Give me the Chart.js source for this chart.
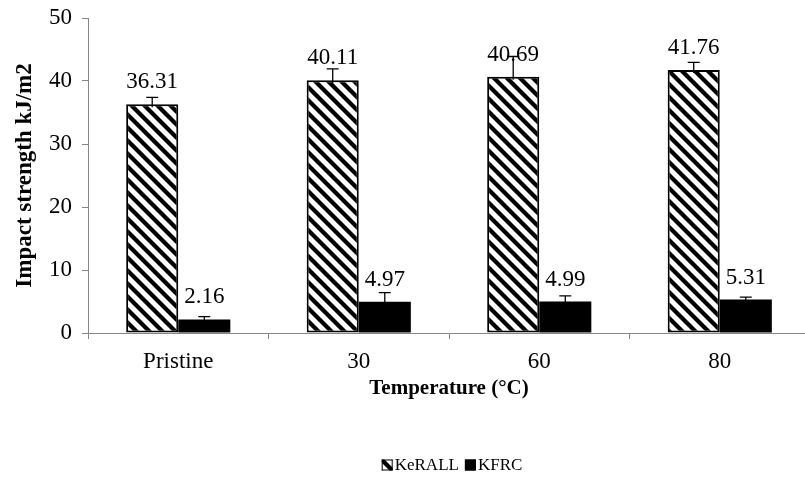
<!DOCTYPE html>
<html>
<head>
<meta charset="utf-8">
<script src="https://cdn.jsdelivr.net/npm/chart.js@4/dist/chart.umd.min.js"></script>
<style>
  html, body { margin: 0; padding: 0; overflow: hidden; background: #ffffff; }
  #wrap { width: 810px; height: 478px; }
</style>
</head>
<body>
<div id="wrap"><canvas id="chart" width="810" height="478"></canvas></div>
<script>
// Impact strength (kJ/m2) by conditioning temperature
const categories = ['Pristine', '30', '60', '80'];
const keRALL = [36.31, 40.11, 40.69, 41.76];
const keRALLErr = [1.1, 1.8, 3.2, 1.2];
const kfrc = [2.16, 4.97, 4.99, 5.31];
const kfrcErr = [0.45, 1.45, 0.9, 0.4];
const yMin = 0, yMax = 50, yStep = 10;

const SERIF = '"Liberation Serif", "Times New Roman", serif';
const AXIS_GREY = '#868686';

// diagonal "\" hatch used for the KeRALL bars
function makeHatch() {
  const s = 13;
  const c = document.createElement('canvas');
  c.width = s; c.height = s;
  const g = c.getContext('2d');
  g.fillStyle = '#ffffff';
  g.fillRect(0, 0, s, s);
  g.strokeStyle = '#000000';
  g.lineWidth = 4.2;
  for (const k of [-s, 0, s]) {
    g.beginPath();
    g.moveTo(-2, k - 2);
    g.lineTo(s + 2, s + k + 2);
    g.stroke();
  }
  return g.createPattern(c, 'repeat');
}
const hatch = makeHatch();

// plus-direction error bars and value labels, placed through the chart's scales
const barExtras = {
  id: 'barExtras',
  afterDatasetsDraw(chart) {
    const ctx = chart.ctx;
    const y = chart.scales.y;
    chart.data.datasets.forEach((ds, di) => {
      const meta = chart.getDatasetMeta(di);
      meta.data.forEach((bar, i) => {
        const v = ds.data[i];
        const e = ds.errors[i];
        const x = bar.x;
        const yTop = y.getPixelForValue(v);
        const yHi = y.getPixelForValue(v + e);
        ctx.save();
        ctx.strokeStyle = '#000000';
        ctx.lineWidth = 1.3;
        ctx.beginPath();
        ctx.moveTo(x, yTop + 3); ctx.lineTo(x, yHi);
        ctx.moveTo(x - 6, yHi); ctx.lineTo(x + 6, yHi);
        ctx.stroke();
        ctx.fillStyle = '#000000';
        ctx.font = '23px ' + SERIF;
        ctx.textAlign = 'center';
        ctx.textBaseline = 'alphabetic';
        ctx.fillText(v.toFixed(2), x, yTop - 16);
        ctx.restore();
      });
    });
  }
};

// compact legend row below the axis title
const bottomLegend = {
  id: 'bottomLegend',
  afterDraw(chart) {
    const ctx = chart.ctx;
    const area = chart.chartArea;
    ctx.save();
    ctx.font = '17px ' + SERIF;
    ctx.textBaseline = 'middle';
    ctx.textAlign = 'left';
    const box = 11, gapText = 2, gapItem = 6;
    const items = chart.data.datasets.map(ds => ({
      label: ds.label, fill: ds.backgroundColor,
      w: box + gapText + ctx.measureText(ds.label).width
    }));
    const total = items.reduce((s, it) => s + it.w, 0) + gapItem * (items.length - 1);
    let x = (area.left + area.right) / 2 - total / 2 + 3;
    const cy = 465;
    items.forEach(it => {
      ctx.fillStyle = it.fill;
      ctx.fillRect(x, cy - box / 2, box, box);
      ctx.strokeStyle = '#000000';
      ctx.lineWidth = 1;
      ctx.strokeRect(x + 0.5, cy - box / 2 + 0.5, box - 1, box - 1);
      ctx.fillStyle = '#000000';
      ctx.fillText(it.label, x + box + gapText, cy + 1);
      x += it.w + gapItem;
    });
    ctx.restore();
  }
};

new Chart(document.getElementById('chart'), {
  type: 'bar',
  data: {
    labels: categories,
    datasets: [
      {
        label: 'KeRALL',
        data: keRALL,
        errors: keRALLErr,
        backgroundColor: hatch,
        borderColor: '#000000',
        borderWidth: 2,
        borderSkipped: false
      },
      {
        label: 'KFRC',
        data: kfrc,
        errors: kfrcErr,
        backgroundColor: '#000000',
        borderColor: '#000000',
        borderWidth: 0
      }
    ]
  },
  options: {
    responsive: false,
    animation: false,
    devicePixelRatio: 1,
    layout: { padding: { top: 18, right: 0, bottom: 0, left: 0 } },
    datasets: { bar: { categoryPercentage: 0.577, barPercentage: 1.0 } },
    plugins: {
      legend: { display: false },
      tooltip: { enabled: false }
    },
    scales: {
      x: {
        grid: { display: true, drawOnChartArea: false, drawTicks: true, tickLength: 6, color: AXIS_GREY, offset: true },
        border: { display: true, color: AXIS_GREY, width: 1 },
        ticks: { color: '#000000', font: { family: SERIF, size: 23 }, padding: 9, maxRotation: 0 },
        title: {
          display: true,
          text: 'Temperature (°C)',
          color: '#000000',
          font: { family: SERIF, size: 21, weight: 'bold' },
          padding: { top: 0, bottom: 77 }
        },
        afterFit(scale) { scale.height = 145; scale.paddingLeft = 0; scale.paddingRight = 0; }
      },
      y: {
        min: yMin,
        max: yMax,
        grid: { display: true, drawOnChartArea: false, drawTicks: true, tickLength: 6, color: AXIS_GREY },
        border: { display: true, color: AXIS_GREY, width: 1 },
        ticks: { stepSize: yStep, color: '#000000', font: { family: SERIF, size: 23 }, padding: 10 },
        title: {
          display: true,
          text: 'Impact strength kJ/m2',
          color: '#000000',
          font: { family: SERIF, size: 23, weight: 'bold' },
          padding: { top: 11, bottom: 0 }
        },
        afterFit(scale) { scale.width = 88; scale.paddingTop = 0; scale.paddingBottom = 0; }
      }
    }
  },
  plugins: [barExtras, bottomLegend]
});
</script>
</body>
</html>
